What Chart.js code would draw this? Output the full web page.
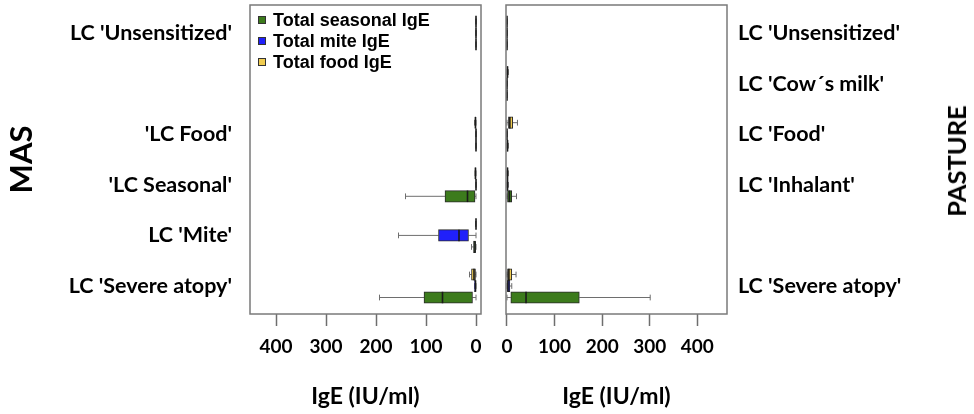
<!DOCTYPE html>
<html>
<head>
<meta charset="utf-8">
<script src="https://cdn.jsdelivr.net/npm/chart.js@4.4.1/dist/chart.umd.min.js"></script>
<style>
  html, body { margin: 0; padding: 0; background: #fff; }
  #wrap { position: relative; width: 974px; height: 414px; overflow: hidden; }
  #masBox { position: absolute; left: 0; top: 0; width: 495px; height: 414px; }
  #pastureBox { position: absolute; left: 495px; top: 0; width: 479px; height: 414px; }
  #legend { position: absolute; left: 258px; top: 10px; font: bold 18px "Liberation Sans", Arial, sans-serif; line-height: 21px; color: #000; }
  #legend .sw { display: inline-block; width: 6px; height: 6px; border: 1px solid #333; margin-right: 7px; vertical-align: middle; position: relative; top: -1px; }
  #pastureTitle { position: absolute; left: 956px; top: 161px; transform: translate(-50%, -50%) rotate(-90deg); font: bold 25.5px Lato, sans-serif; white-space: nowrap; color: #000; }
</style>
</head>
<body>
<div id="wrap">
  <div id="masBox"><canvas id="masChart"></canvas></div>
  <div id="pastureBox"><canvas id="pastureChart"></canvas></div>
  <div id="legend"></div>
  <div id="pastureTitle">PASTURE</div>
</div>
<script>
// slots from top to bottom, shared by both panels
const masLabels = ["LC 'Unsensitized'", "", "'LC Food'", "'LC Seasonal'", "LC 'Mite'", "LC 'Severe atopy'"];
const pastureLabels = ["LC 'Unsensitized'", "LC 'Cow´s milk'", "LC 'Food'", "LC 'Inhalant'", "", "LC 'Severe atopy'"];
const xTicks = [0, 100, 200, 300, 400];

// box stats per slot: [min, q1, median, q3, max], null = no box
const masSeasonal = [[0, 0, 0, 0, 0], null, [0, 0, 0, 0, 0], [0, 2, 17, 62, 141], [0, 0, 2, 5, 9], [0, 7, 67, 104, 193]];
const masMite = [[0, 0, 0, 0, 0], null, [0, 0, 0, 0, 0], [0, 0, 0, 0, 0], [0, 15, 34, 75, 155], [0, 0, 1, 3, 3]];
const masFood = [[0, 0, 0, 0, 0], null, [0, 0, 1, 2, 3], [0, 0, 1, 2, 2], [0, 0, 0, 1, 1], [0, 1, 4, 9, 13]];

const pastureSeasonal = [[0, 0, 0, 0, 0], [0, 0, 0, 0, 0], [0, 0, 1, 2, 3], [0, 1, 5, 10, 20], null, [0, 8, 40, 152, 301]];
const pastureMite = [[0, 0, 0, 0, 0], [0, 0, 0, 0, 0], [0, 0, 0, 0, 0], [0, 0, 1, 2, 3], null, [0, 0, 2, 6, 10]];
const pastureFood = [[0, 0, 0, 0, 0], [0, 0, 1, 2, 3], [0, 3, 6, 12, 22], [0, 0, 1, 2, 3], null, [0, 1, 4, 10, 19]];

const seriesNames = ['Total seasonal IgE', 'Total mite IgE', 'Total food IgE'];
const seriesColors = ['#3c7b1c', '#2020fa', '#f0cc50'];

const labelFont = { family: 'Lato, sans-serif', size: 21.5, weight: 'bold' };
const tickFont = { family: 'Lato, sans-serif', size: 19, weight: 'bold' };
const titleFont = { family: 'Lato, sans-serif', size: 23, weight: 'bold' };

function toBars(stats) {
    const out = [];
    stats.forEach((s, i) => {
        if (s) out.push({ y: 5 - i, x: [s[1], s[3]], stats: s });
    });
    return out;
}

// whiskers, caps and medians drawn with the chart's own scales
const boxPlugin = {
    id: 'boxWhiskers',
    beforeDatasetsDraw(chart) {
        const ctx = chart.ctx;
        const xs = chart.scales.x;
        ctx.save();
        ctx.strokeStyle = '#6e6e6e';
        ctx.lineWidth = 1;
        chart.data.datasets.forEach((ds, di) => {
            const meta = chart.getDatasetMeta(di);
            meta.data.forEach((bar, i) => {
                const s = ds.data[i].stats;
                const y = bar.y;
                const cap = bar.height * 0.25;
                const pMin = xs.getPixelForValue(s[0]);
                const pQ1 = xs.getPixelForValue(s[1]);
                const pQ3 = xs.getPixelForValue(s[3]);
                const pMax = xs.getPixelForValue(s[4]);
                ctx.beginPath();
                if (s[0] !== s[1]) { ctx.moveTo(pMin, y); ctx.lineTo(pQ1, y); }
                if (s[4] !== s[3]) { ctx.moveTo(pQ3, y); ctx.lineTo(pMax, y); }
                ctx.moveTo(pMin, y - cap); ctx.lineTo(pMin, y + cap);
                ctx.moveTo(pMax, y - cap); ctx.lineTo(pMax, y + cap);
                ctx.stroke();
            });
        });
        ctx.restore();
    },
    afterDatasetsDraw(chart) {
        const ctx = chart.ctx;
        const xs = chart.scales.x;
        ctx.save();
        ctx.strokeStyle = '#1a1a1a';
        ctx.lineWidth = 1.6;
        chart.data.datasets.forEach((ds, di) => {
            const meta = chart.getDatasetMeta(di);
            meta.data.forEach((bar, i) => {
                const s = ds.data[i].stats;
                const px = xs.getPixelForValue(s[2]);
                ctx.beginPath();
                ctx.moveTo(px, bar.y - bar.height / 2);
                ctx.lineTo(px, bar.y + bar.height / 2);
                ctx.stroke();
            });
        });
        ctx.restore();
    }
};

const framePlugin = {
    id: 'frame',
    afterDraw(chart) {
        const { left, top, right, bottom } = chart.chartArea;
        const ctx = chart.ctx;
        ctx.save();
        ctx.strokeStyle = '#7a7a7a';
        ctx.lineWidth = 1.5;
        ctx.strokeRect(left, top, right - left, bottom - top);
        ctx.restore();
    }
};

function makeChart(id, opts) {
    // drawn top to bottom inside a slot: food, mite, seasonal
    const order = [2, 1, 0];
    const datasets = order.map(k => ({
        label: seriesNames[k],
        data: toBars(opts.series[k]),
        backgroundColor: seriesColors[k],
        borderColor: '#2a2a2a',
        borderWidth: 1,
        borderSkipped: false,
        barThickness: 11.5
    }));

    return new Chart(document.getElementById(id), {
        type: 'bar',
        data: { datasets: datasets },
        plugins: [boxPlugin, framePlugin],
        options: {
            indexAxis: 'y',
            responsive: true,
            maintainAspectRatio: false,
            animation: false,
            layout: { padding: opts.padding },
            plugins: {
                legend: { display: false },
                tooltip: { enabled: false }
            },
            scales: {
                x: {
                    type: 'linear',
                    reverse: opts.reverse,
                    min: opts.xMin,
                    max: opts.xMax,
                    afterBuildTicks: s => { s.ticks = xTicks.map(v => ({ value: v })); },
                    afterFit: s => { s.height = 100; s.paddingLeft = 0; s.paddingRight = 0; },
                    grid: { drawOnChartArea: false, tickLength: 12, tickColor: '#6e6e6e', tickWidth: 1.5 },
                    border: { display: false },
                    ticks: { font: tickFont, color: '#000', padding: 9, maxRotation: 0, autoSkip: false },
                    title: { display: true, text: 'IgE (IU/ml)', font: titleFont, color: '#000', padding: { top: 0, bottom: 4 } }
                },
                y: {
                    type: 'linear',
                    offset: false,
                    position: opts.yPos,
                    min: -0.553,
                    max: 5.553,
                    afterBuildTicks: s => { s.ticks = [0, 1, 2, 3, 4, 5].map(v => ({ value: v })); },
                    afterFit: s => { s.width = opts.yWidth; s.paddingTop = 0; s.paddingBottom = 0; },
                    grid: { display: false, drawTicks: false, offset: false },
                    border: { display: false },
                    ticks: {
                        font: labelFont,
                        color: '#000',
                        padding: opts.yPad,
                        autoSkip: false,
                        callback: v => opts.labels[5 - Math.round(v)]
                    },
                    title: opts.yTitle
                }
            }
        }
    });
}

const masChart = makeChart('masChart', {
    series: [masSeasonal, masMite, masFood],
    labels: masLabels,
    reverse: true,
    xMin: -10,
    xMax: 452,
    yPos: 'left',
    yWidth: 250,
    yPad: 18,
    padding: { top: 5, right: 14 },
    yTitle: { display: true, text: 'MAS', color: '#000', font: { family: 'Lato, sans-serif', size: 31, weight: 'bold' }, padding: { top: 3, bottom: 0 } }
});

const pastureChart = makeChart('pastureChart', {
    series: [pastureSeasonal, pastureMite, pastureFood],
    labels: pastureLabels,
    reverse: false,
    xMin: -2.1,
    xMax: 462.4,
    yPos: 'right',
    yWidth: 247,
    yPad: 11,
    padding: { top: 5, left: 11 },
    yTitle: { display: false }
});

// legend inside the left panel
const legend = document.getElementById('legend');
seriesNames.forEach((name, k) => {
    const row = document.createElement('div');
    row.innerHTML = '<span class="sw" style="background:' + seriesColors[k] + '"></span>' + name;
    legend.appendChild(row);
});
</script>
</body>
</html>
